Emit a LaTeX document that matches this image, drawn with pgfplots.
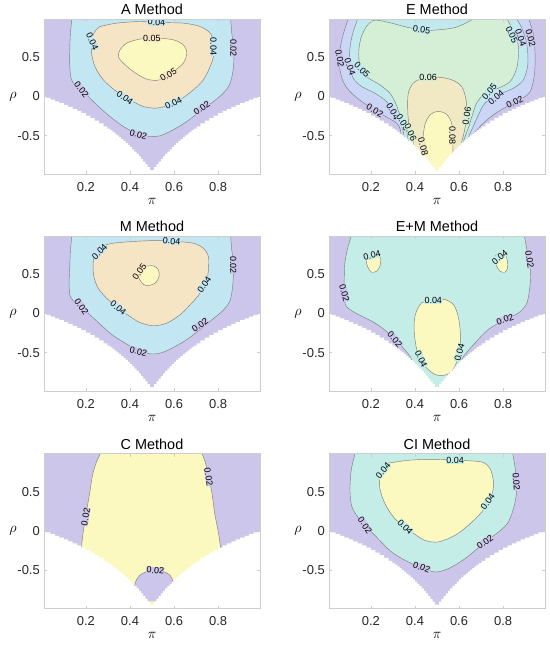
\documentclass[border=0pt]{standalone}
\usepackage{fontspec}
\setmainfont{Liberation Sans}
\usepackage{pgfplots}
\usepackage{pgfplotstable}
\pgfplotsset{compat=1.18}

\definecolor{cpur}{RGB}{204,198,235}
\definecolor{cblue}{RGB}{194,230,242}
\definecolor{cpeach}{RGB}{246,229,196}
\definecolor{cyel}{RGB}{251,249,192}
\definecolor{clav}{RGB}{203,214,246}
\definecolor{ccyan}{RGB}{194,234,238}
\definecolor{cgreen}{RGB}{213,238,214}
\definecolor{cbeige}{RGB}{241,233,196}
\definecolor{cteal}{RGB}{196,237,232}
\definecolor{lc}{RGB}{125,125,125}
\definecolor{framegray}{RGB}{205,205,205}
\definecolor{tickcol}{RGB}{38,38,38}

% feasible-region lower boundary (white mask), shared by all panels
\pgfplotstableread{
x y
-0.01 0.000
0.01 0.000
0.03 -0.019
0.05 -0.040
0.07 -0.061
0.09 -0.084
0.11 -0.107
0.13 -0.132
0.15 -0.158
0.17 -0.185
0.19 -0.213
0.21 -0.243
0.23 -0.275
0.25 -0.308
0.27 -0.344
0.29 -0.381
0.305 -0.411
0.315 -0.431
0.325 -0.452
0.335 -0.474
0.345 -0.496
0.355 -0.519
0.365 -0.543
0.375 -0.568
0.385 -0.593
0.395 -0.619
0.405 -0.646
0.415 -0.675
0.425 -0.704
0.435 -0.734
0.445 -0.765
0.455 -0.798
0.465 -0.831
0.475 -0.866
0.485 -0.903
0.495 -0.941
0.505 -0.941
0.515 -0.903
0.525 -0.866
0.535 -0.831
0.545 -0.798
0.555 -0.765
0.565 -0.734
0.575 -0.704
0.585 -0.675
0.595 -0.646
0.605 -0.619
0.615 -0.593
0.625 -0.568
0.635 -0.543
0.645 -0.519
0.655 -0.496
0.665 -0.474
0.675 -0.452
0.685 -0.431
0.695 -0.411
0.71 -0.381
0.73 -0.344
0.75 -0.308
0.77 -0.275
0.79 -0.243
0.81 -0.213
0.83 -0.185
0.85 -0.158
0.87 -0.132
0.89 -0.107
0.91 -0.084
0.93 -0.061
0.95 -0.040
0.97 -0.019
0.99 0.000
1.01 0.000
1.01 -1.2
-0.01 -1.2
}\bnd

\pgfplotsset{
  panel/.style={
    scale only axis, width=216bp, height=155bp,
    xmin=0.01, xmax=0.99, ymin=-0.99, ymax=0.99,
    xtick={0.2,0.4,0.6,0.8}, xticklabels={0.2,0.4,0.6,0.8},
    ytick={-0.5,0,0.5}, yticklabels={-0.5,0,0.5},
    tick align=inside, major tick length=3bp,
    tick style={draw=framegray, line width=0.5bp},
    axis line style={draw=framegray, line width=0.6bp},
    axis on top,
    axis background/.style={fill=cpur},
    tick label style={font=\fontsize{13}{15}\selectfont, text=tickcol},
    xticklabel style={anchor=north, inner sep=0pt, yshift=-8bp},
    yticklabel style={anchor=east, inner sep=0pt, xshift=-4bp},
    xlabel={$\pi$}, ylabel={$\rho$},
    every axis x label/.style={at={(axis description cs:0.5,0)}, anchor=center, yshift=-27bp, font=\fontsize{14}{16}\selectfont},
    every axis y label/.style={at={(axis description cs:0,0.5)}, anchor=center, xshift=-31bp, font=\fontsize{14}{16}\selectfont},
    anchor=north west,
  },
  cf/.style={smooth, fill=#1, draw=lc, line width=0.45bp, mark=none},
  mask/.style={const plot mark mid, fill=white, draw=none, mark=none},
}
\tikzset{lb/.style={font=\fontsize{9}{9}\selectfont, inner sep=0.3bp},
  ttl/.style={anchor=base, inner sep=0pt, font=\fontsize{14.5}{15}\selectfont}}
\newcommand{\lab}[4]{\node[lb, fill=#4, rotate=#3] at (axis cs:#1) {#2};}

\begin{document}
\begin{tikzpicture}[x=1bp,y=1bp]

% ---------------- A Method ----------------
\begin{axis}[panel, at={(44bp,-19bp)}, name=pA]
\addplot[cf=cblue] coordinates {(0.139,1.06) (0.130,0.81) (0.127,0.596) (0.127,0.383) (0.135,0.213) (0.165,0.107) (0.203,0.022) (0.249,-0.106) (0.309,-0.255) (0.370,-0.383) (0.430,-0.468) (0.491,-0.511) (0.536,-0.502) (0.597,-0.425) (0.658,-0.319) (0.718,-0.191) (0.779,-0.064) (0.824,0.043) (0.855,0.171) (0.870,0.383) (0.870,0.639) (0.862,0.81) (0.855,1.06)};
\addplot[cf=cpeach] coordinates {(0.264,0.894) (0.339,0.937) (0.445,0.958) (0.521,0.945) (0.642,0.937) (0.718,0.894) (0.764,0.81) (0.779,0.682) (0.779,0.511) (0.764,0.383) (0.733,0.213) (0.688,0.086) (0.627,-0.042) (0.582,-0.106) (0.521,-0.148) (0.461,-0.128) (0.4,-0.042) (0.339,0.064) (0.279,0.213) (0.241,0.383) (0.226,0.554) (0.226,0.724) (0.241,0.831) (0.264,0.894)};
\addplot[cf=cyel] coordinates {(0.355,0.596) (0.385,0.682) (0.445,0.733) (0.521,0.745) (0.597,0.724) (0.642,0.66) (0.658,0.554) (0.642,0.426) (0.597,0.32) (0.536,0.213) (0.476,0.222) (0.415,0.32) (0.370,0.426) (0.347,0.511) (0.355,0.596)};
\addplot[mask] table {\bnd};
\lab{0.18,0.086}{0.02}{-52}{cpur}
\lab{0.438,-0.489}{0.02}{-15}{cpur}
\lab{0.726,-0.148}{0.02}{35}{cpur}
\lab{0.870,0.618}{0.02}{-90}{cpur}
\lab{0.521,0.948}{0.04}{-3}{cblue}
\lab{0.779,0.639}{0.04}{-90}{cblue}
\lab{0.229,0.703}{0.04}{-65}{cblue}
\lab{0.377,-0.02}{0.04}{-35}{cblue}
\lab{0.597,-0.084}{0.04}{25}{cblue}
\lab{0.499,0.745}{0.05}{0}{cpeach}
\lab{0.574,0.277}{0.05}{30}{cpeach}
\end{axis}
\node[ttl] at ([yshift=4.5bp]pA.north) {A Method};

% ---------------- E Method ----------------
\begin{axis}[panel, at={(329bp,-19bp)}, name=pE]
\addplot[cf=clav] coordinates {(0.105,1.06) (0.074,0.788) (0.059,0.575) (0.059,0.363) (0.074,0.192) (0.105,0.064) (0.158,-0.064) (0.218,-0.17) (0.279,-0.276) (0.317,-0.34) (0.335,-0.43) (0.35,-0.65) (0.5,-1.1) (0.65,-0.65) (0.665,-0.489) (0.703,-0.361) (0.756,-0.234) (0.817,-0.128) (0.877,-0.042) (0.923,0.064) (0.942,0.277) (0.945,0.533) (0.938,0.788) (0.908,1.06)};
\addplot[cf=ccyan] coordinates {(0.15,1.06) (0.12,0.83) (0.105,0.618) (0.105,0.405) (0.12,0.235) (0.158,0.128) (0.218,0.043) (0.271,-0.064) (0.301,-0.192) (0.324,-0.298) (0.345,-0.42) (0.37,-0.7) (0.5,-1.1) (0.63,-0.7) (0.645,-0.5) (0.661,-0.404) (0.688,-0.234) (0.718,-0.084) (0.779,0.022) (0.847,0.107) (0.892,0.213) (0.912,0.405) (0.908,0.66) (0.885,0.873) (0.847,1.06)};
\addplot[cf=cgreen] coordinates {(0.5,-1.1) (0.39,-0.75) (0.365,-0.48) (0.355,-0.361) (0.332,-0.234) (0.312,-0.084) (0.286,0.043) (0.241,0.149) (0.18,0.255) (0.15,0.405) (0.145,0.575) (0.155,0.746) (0.18,0.894) (0.218,0.975) (0.294,0.937) (0.37,0.881) (0.445,0.85) (0.491,0.848) (0.582,0.881) (0.658,0.98) (0.688,1.06) (0.794,1.06) (0.832,0.916) (0.862,0.746) (0.87,0.575) (0.862,0.363) (0.832,0.192) (0.779,0.107) (0.718,0.043) (0.68,-0.084) (0.661,-0.234) (0.642,-0.404) (0.62,-0.574) (0.61,-0.75) (0.5,-1.1)};
\addplot[cf=cbeige] coordinates {(0.5,-1.1) (0.40,-0.75) (0.392,-0.553) (0.38,-0.45) (0.37,-0.3) (0.367,-0.128) (0.370,0.043) (0.392,0.171) (0.438,0.235) (0.506,0.247) (0.567,0.213) (0.612,0.128) (0.632,-0.042) (0.635,-0.234) (0.624,-0.447) (0.605,-0.66) (0.59,-0.85) (0.5,-1.1)};
\addplot[cf=cyel] coordinates {(0.5,-1.1) (0.44,-0.81) (0.435,-0.6) (0.445,-0.36) (0.47,-0.23) (0.505,-0.19) (0.545,-0.23) (0.568,-0.36) (0.572,-0.6) (0.565,-0.81) (0.5,-1.1)};
\addplot[mask] table {\bnd};
\lab{0.43,0.852}{0.05}{-8}{ccyan}
\lab{0.059,0.49}{0.02}{-80}{cpur}
\lab{0.105,0.383}{0.04}{-70}{clav}
\lab{0.16,0.341}{0.05}{-45}{ccyan}
\lab{0.46,0.24}{0.06}{0}{cgreen}
\lab{0.218,-0.18}{0.02}{-30}{cpur}
\lab{0.300,-0.19}{0.04}{-60}{clav}
\lab{0.345,-0.33}{0.05}{-60}{ccyan}
\lab{0.380,-0.46}{0.06}{-65}{cgreen}
\lab{0.437,-0.64}{0.08}{-75}{cbeige}
\lab{0.57,-0.5}{0.08}{-90}{cbeige}
\lab{0.635,-0.25}{0.06}{80}{cgreen}
\lab{0.738,0.065}{0.05}{50}{ccyan}
\lab{0.768,-0.01}{0.04}{40}{clav}
\lab{0.853,-0.075}{0.02}{25}{cpur}
\lab{0.84,0.79}{0.05}{-65}{ccyan}
\lab{0.88,0.75}{0.04}{-70}{clav}
\lab{0.925,0.745}{0.02}{-75}{cpur}
\end{axis}
\node[ttl] at ([yshift=4.5bp]pE.north) {E Method};

% ---------------- M Method ----------------
\begin{axis}[panel, at={(44bp,-236bp)}, name=pM]
\addplot[cf=cblue] coordinates {(0.139,1.06) (0.130,0.81) (0.127,0.596) (0.124,0.383) (0.130,0.213) (0.165,0.107) (0.210,0.005) (0.258,-0.12) (0.318,-0.27) (0.379,-0.38) (0.432,-0.465) (0.494,-0.516) (0.545,-0.5) (0.606,-0.42) (0.667,-0.315) (0.733,-0.17) (0.779,-0.064) (0.824,0.043) (0.855,0.171) (0.867,0.383) (0.870,0.639) (0.862,0.81) (0.855,1.06)};
\addplot[cf=cpeach] coordinates {(0.264,0.856) (0.324,0.898) (0.415,0.92) (0.521,0.932) (0.612,0.92) (0.688,0.898) (0.733,0.834) (0.756,0.728) (0.756,0.558) (0.748,0.430) (0.718,0.259) (0.673,0.111) (0.627,-0.017) (0.567,-0.124) (0.506,-0.157) (0.445,-0.115) (0.4,-0.038) (0.347,0.068) (0.294,0.196) (0.256,0.323) (0.236,0.473) (0.233,0.643) (0.241,0.770) (0.264,0.856)};
\addplot[cf=cyel] coordinates {(0.445,0.558) (0.468,0.6) (0.506,0.609) (0.529,0.558) (0.532,0.473) (0.514,0.387) (0.476,0.354) (0.453,0.396) (0.438,0.473) (0.445,0.558)};
\addplot[mask] table {\bnd};
\lab{0.589,0.925}{0.04}{-5}{cblue}
\lab{0.262,0.79}{0.04}{45}{cblue}
\lab{0.868,0.622}{0.02}{-90}{cpur}
\lab{0.443,0.53}{0.05}{55}{cpeach}
\lab{0.737,0.366}{0.04}{55}{cblue}
\lab{0.347,0.068}{0.04}{-40}{cblue}
\lab{0.18,0.09}{0.02}{-55}{cpur}
\lab{0.718,-0.145}{0.02}{35}{cpur}
\lab{0.438,-0.485}{0.02}{-15}{cpur}
\end{axis}
\node[ttl] at ([yshift=4.5bp]pM.north) {M Method};

% ---------------- E+M Method ----------------
\begin{axis}[panel, at={(329bp,-236bp)}, name=pEM]
\addplot[cf=cteal] coordinates {(0.12,1.06) (0.097,0.86) (0.082,0.646) (0.079,0.391) (0.082,0.135) (0.105,0.051) (0.158,-0.034) (0.218,-0.12) (0.279,-0.248) (0.347,-0.439) (0.385,-0.587) (0.40,-0.8) (0.5,-1.1) (0.6,-0.8) (0.612,-0.587) (0.673,-0.375) (0.733,-0.204) (0.809,-0.077) (0.87,0.008) (0.908,0.135) (0.923,0.391) (0.923,0.646) (0.908,0.817) (0.892,1.06)};
\addplot[cf=cyel] coordinates {(0.18,0.732) (0.203,0.774) (0.233,0.766) (0.245,0.689) (0.241,0.604) (0.226,0.54) (0.203,0.527) (0.188,0.583) (0.18,0.646) (0.18,0.732)};
\addplot[cf=cyel] coordinates {(0.764,0.732) (0.786,0.774) (0.809,0.753) (0.82,0.668) (0.82,0.583) (0.809,0.527) (0.786,0.54) (0.771,0.604) (0.764,0.668) (0.764,0.732)};
\addplot[cf=cyel] coordinates {(0.491,0.179) (0.43,0.135) (0.4,-0.034) (0.397,-0.248) (0.412,-0.503) (0.445,-0.673) (0.491,-0.779) (0.529,-0.792) (0.567,-0.737) (0.594,-0.587) (0.605,-0.418) (0.605,-0.204) (0.594,-0.013) (0.574,0.115) (0.536,0.179) (0.491,0.179)};
\addplot[mask] table {\bnd};
\lab{0.205,0.74}{0.04}{15}{cteal}
\lab{0.785,0.72}{0.04}{40}{cteal}
\lab{0.92,0.69}{0.02}{-80}{cpur}
\lab{0.08,0.263}{0.02}{-75}{cpur}
\lab{0.483,0.17}{0.04}{0}{cteal}
\lab{0.809,-0.077}{0.02}{20}{cpur}
\lab{0.309,-0.33}{0.02}{-50}{cpur}
\lab{0.428,-0.58}{0.04}{-65}{cteal}
\lab{0.602,-0.5}{0.04}{75}{cteal}
\end{axis}
\node[ttl] at ([yshift=4.5bp]pEM.north) {E+M Method};

% ---------------- C Method ----------------
\begin{axis}[panel, at={(44bp,-453.5bp)}, name=pC]
\addplot[cf=cyel] coordinates {(0.279,1.06) (0.248,0.881) (0.23,0.711) (0.218,0.498) (0.2,0.2) (0.188,-0.013) (0.18,-0.204) (0.17,-0.45) (0.5,-1.1) (0.83,-0.45) (0.812,-0.213) (0.801,-0.013) (0.786,0.2) (0.771,0.498) (0.756,0.711) (0.741,0.881) (0.718,1.06)};
\addplot[cf=cpur] coordinates {(0.41,-0.9) (0.423,-0.673) (0.445,-0.566) (0.491,-0.502) (0.536,-0.502) (0.582,-0.566) (0.597,-0.673) (0.61,-0.9)};
\addplot[mask] table {\bnd};
\lab{0.757,0.69}{0.02}{-80}{cpur}
\lab{0.199,0.18}{0.02}{80}{cpur}
\lab{0.515,-0.505}{0.02}{-5}{cpur}
\end{axis}
\node[ttl] at ([yshift=4.5bp]pC.north) {C Method};

% ---------------- CI Method ----------------
\begin{axis}[panel, at={(329bp,-453.5bp)}, name=pCI]
\addplot[cf=cteal] coordinates {(0.135,1.06) (0.112,0.796) (0.105,0.54) (0.112,0.328) (0.135,0.2) (0.173,0.073) (0.218,-0.055) (0.294,-0.268) (0.37,-0.396) (0.43,-0.465) (0.491,-0.524) (0.551,-0.481) (0.627,-0.354) (0.718,-0.141) (0.779,-0.013) (0.824,0.115) (0.851,0.328) (0.862,0.54) (0.855,0.796) (0.839,1.06)};
\addplot[cf=cyel] coordinates {(0.264,0.86) (0.37,0.903) (0.476,0.916) (0.597,0.903) (0.703,0.881) (0.741,0.796) (0.756,0.626) (0.748,0.456) (0.703,0.243) (0.642,0.073) (0.582,-0.055) (0.506,-0.14) (0.445,-0.119) (0.385,-0.013) (0.309,0.157) (0.264,0.349) (0.241,0.54) (0.241,0.711) (0.249,0.792) (0.264,0.86)};
\addplot[mask] table {\bnd};
\lab{0.582,0.903}{0.04}{0}{cteal}
\lab{0.255,0.77}{0.04}{50}{cteal}
\lab{0.86,0.63}{0.02}{-85}{cpur}
\lab{0.73,0.37}{0.04}{55}{cteal}
\lab{0.356,0.051}{0.04}{-45}{cteal}
\lab{0.173,0.073}{0.02}{-55}{cpur}
\lab{0.43,-0.465}{0.02}{-20}{cpur}
\lab{0.718,-0.141}{0.02}{35}{cpur}
\end{axis}
\node[ttl] at ([yshift=4.5bp]pCI.north) {CI Method};

\pgfresetboundingbox
\useasboundingbox (0,0) rectangle (550bp,-648bp);
\end{tikzpicture}
\end{document}
